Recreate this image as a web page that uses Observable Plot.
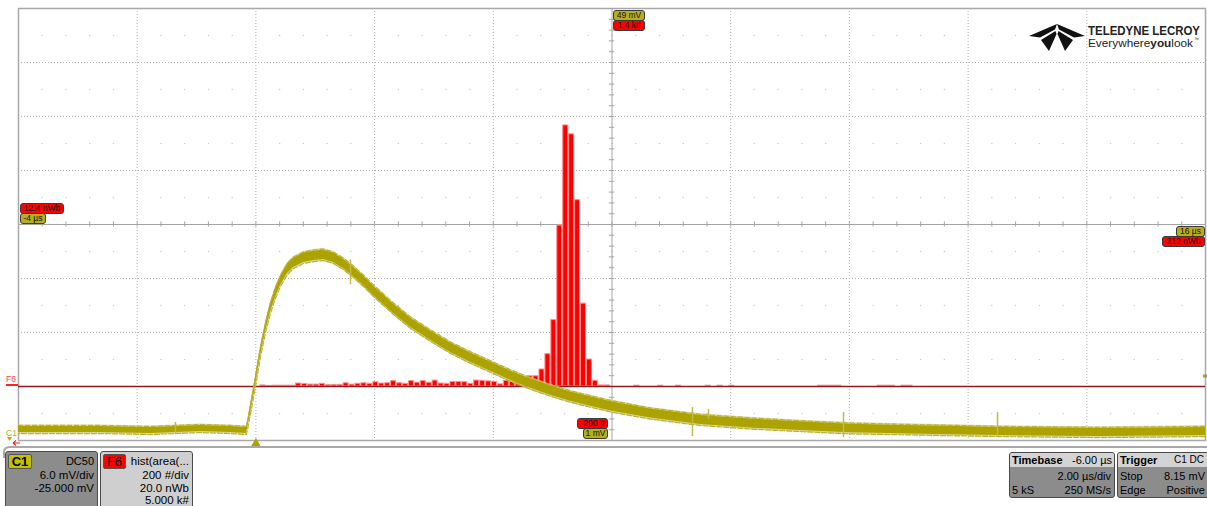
<!DOCTYPE html>
<html><head><meta charset="utf-8">
<script src="https://cdn.jsdelivr.net/npm/d3@7"></script>
<script src="https://cdn.jsdelivr.net/npm/@observablehq/plot@0.6"></script>
<style>
body{margin:0;background:#fff;font-family:"Liberation Sans",Arial,sans-serif;}
#wrap{position:relative;width:1207px;height:506px;overflow:hidden;background:#fff;}
#wrap>svg{position:absolute;left:0;top:0;}
.bdg{position:absolute;height:9px;border:1px solid #3a3a3a;border-radius:3px;font:8.5px/9px "Liberation Sans",Arial,sans-serif;text-align:center;color:#141414;box-sizing:content-box;white-space:nowrap;}
.r{background:#ff0000;}
.o{background:#b6ae1c;}
.box{position:absolute;border:1px solid #4a4a4a;border-radius:3px;box-sizing:border-box;font:11.5px/14px "Liberation Sans",Arial,sans-serif;color:#000;overflow:hidden;}
.tb{font-size:11px;}
.row{position:absolute;left:4px;right:3px;height:14px;}
.row .l{position:absolute;left:0;}
.row .rt{position:absolute;right:0;}
.hdr{position:absolute;left:0;right:0;top:0;height:14px;background:#d4d4d4;}
</style></head><body><div id="wrap"></div>
<script>
// ---------- data ----------
// C1 waveform, time (µs) vs voltage (mV): centre of the noisy trace and half-thickness
const traceT = [-4.000,-2.618,-1.776,-0.933,-0.428,-0.158,-0.091,-0.007,0.078,0.162,0.246,0.330,0.415,0.532,0.634,0.802,0.971,1.139,1.307,1.476,1.644,1.813,1.981,2.150,2.318,2.605,2.942,3.279,3.616,3.953,4.290,4.627,4.964,5.301,5.638,6.008,6.649,7.491,8.334,9.176,10.019,10.861,11.704,12.546,14.231,16.000];
const traceV = [2.22,2.22,2.11,2.33,2.22,2.11,4.44,7.54,10.87,13.53,15.75,17.41,18.75,20.08,20.74,21.30,21.52,21.63,21.30,20.63,19.74,18.75,17.64,16.64,15.64,14.09,12.65,11.31,10.21,9.21,8.21,7.32,6.55,5.88,5.33,4.77,3.99,3.28,2.89,2.59,2.33,2.22,2.11,2.00,1.89,2.00];
const traceH = [0.33,0.33,0.33,0.33,0.33,0.33,0.40,0.45,0.45,0.45,0.48,0.50,0.50,0.52,0.52,0.52,0.52,0.52,0.52,0.52,0.52,0.52,0.52,0.52,0.52,0.52,0.52,0.52,0.52,0.52,0.52,0.52,0.52,0.52,0.52,0.52,0.50,0.50,0.50,0.48,0.48,0.46,0.46,0.45,0.45,0.45];
// isolated noise spikes on the trace
const spikeT  = [-1.355,1.594,7.356,7.626,9.901,12.496];
const spikeLo = [1.80,18.30,1.44,3.33,1.33,1.33];
const spikeHi = [3.00,21.07,4.66,4.44,4.11,4.11];
// F6 histogram of area: bin centre (nWb) and count (#)
const histC = [53.6,54.6,55.6,56.6,57.6,58.6,59.6,60.6,61.6,62.6,63.6,64.6,65.6,66.6,67.6,68.6,69.6,70.6,71.6,72.6,73.6,74.6,75.6,76.6,77.6,78.6,79.6,80.6,81.6,82.6,83.6,84.6,85.6,86.6,87.6,88.6,89.6,90.6,91.6,92.6,93.6,94.6,95.6,96.6,97.6,98.6,99.6,100.6,101.6,102.6,103.6,104.6,105.6,106.6,107.6,108.6,109.6,110.6,111.6,116.6,120.6,123.6,128.6,130.6,132.6,147.6,148.6,149.6,150.6,157.6,158.6,159.6,161.6,162.6];
const histN = [4,2,3,3,3,3,11,9,7,7,10,5,6,6,12,7,10,12,10,16,11,12,20,12,10,20,14,20,14,22,11,10,17,17,16,10,22,21,19,17,8,21,18,21,21,38,38,63,120,246,596,967,934,690,307,100,21,4,4,3,3,3,3,3,3,3,3,3,3,3,3,3,3,3];
// screen graticule
const timeDomain = [-4, 16];      // µs, 2.00 µs/div
const voltDomain = [1, 49];       // mV, 6.0 mV/div
const areaDomain = [12.4, 212.4]; // nWb, 20 nWb/div
const countDomain = [-200, 1400]; // #, 200 #/div
const gridT = [-2,0,2,4,8,10,12,14];
const gridV = [7,13,19,31,37,43];
const midRowsV = [4,10,16,22,28,34,40,46];

// ---------- derived tables ----------
const trace = traceT.map((t,i)=>({t, v:traceV[i], h:traceH[i]}));
const spikes = spikeT.map((t,i)=>({t, lo:spikeLo[i], hi:spikeHi[i]}));
const hist = histC.map((c,i)=>({c, n:histN[i]}));
const minorT = d3.range(1,50).map(k=>timeDomain[0]+0.4*k);
const minorV = d3.range(1,40).map(k=>voltDomain[0]+1.2*k);
const dots = midRowsV.flatMap(v=>minorT.map(t=>({t,v})));

const W=1207,H=448;
const frame = {width:W,height:H,marginTop:8,marginRight:2,marginBottom:8,marginLeft:18,style:{background:"transparent",overflow:"visible"}};
const OLIVE="#aca300";

const gridPlot = Plot.plot({...frame,
  x:{domain:timeDomain,axis:null}, y:{domain:voltDomain,axis:null},
  marks:[
    Plot.ruleX(gridT,{stroke:"#b0b0b0",strokeDasharray:"1,2"}),
    Plot.ruleY(gridV,{stroke:"#b0b0b0",strokeDasharray:"1,2"}),
    Plot.dot(dots,{x:"t",y:"v",r:0.75,fill:"#cccccc",stroke:null}),
    Plot.ruleX([6],{stroke:"#a4a4a4"}),
    Plot.ruleY([25],{stroke:"#a4a4a4"}),
    Plot.ruleX(minorT,{y1:24.72,y2:25.28,stroke:"#a4a4a4"}),
    Plot.ruleY(minorV,{x1:5.955,x2:6.045,stroke:"#a4a4a4"}),
    Plot.frame({stroke:"#a8a8a8",strokeWidth:1.5}),
    Plot.dot([0],{x:d=>d,y:()=>voltDomain[0],symbol:"triangle",r:3.6,fill:OLIVE,stroke:null,dy:3})
  ]});

const histPlot = Plot.plot({...frame,
  x:{domain:areaDomain,axis:null}, y:{domain:countDomain,axis:null},
  marks:[
    Plot.rect(hist,{x1:d=>d.c-0.42,x2:d=>d.c+0.42,y1:()=>0,y2:"n",fill:"#ff0000",stroke:"#ff9090",strokeWidth:1}),
    Plot.ruleY([0],{stroke:"#8e1b1b",strokeWidth:1.3})
  ]});

const wavePlot = Plot.plot({...frame,
  x:{domain:timeDomain,axis:null}, y:{domain:voltDomain,axis:null},
  marks:[
    Plot.areaY(trace,{x:"t",y1:d=>d.v-d.h-0.18,y2:d=>d.v+d.h+0.18,fill:"#d2cb80",fillOpacity:0.8}),
    Plot.areaY(trace,{x:"t",y1:d=>d.v-d.h,y2:d=>d.v+d.h,fill:OLIVE}),
    Plot.line(trace,{x:"t",y:d=>d.v+d.h+0.12,stroke:"#b9b130",strokeWidth:1.2,strokeDasharray:"2,1,1,3"}),
    Plot.line(trace,{x:"t",y:d=>d.v-d.h-0.12,stroke:"#b9b130",strokeWidth:1.2,strokeDasharray:"1,2,3,1"}),
    Plot.ruleX(spikes,{x:"t",y1:"lo",y2:"hi",stroke:"#c2b94a",strokeWidth:1.5})
  ]});

const wrap = document.getElementById("wrap");
wrap.append(gridPlot, histPlot, wavePlot);

// ---------- overlay: markers, badges, logo, info boxes ----------
const ns="http://www.w3.org/2000/svg";
const ov = document.createElementNS(ns,"svg");
ov.setAttribute("width",W); ov.setAttribute("height",506);
ov.innerHTML = `
 <path d="M4,458 L4,452 Q4,447 10,447 L1207,447" fill="none" stroke="#a8a8a8" stroke-width="2"/>
 <text x="6" y="382" font-size="8.5" fill="#ff3a3a" font-family="Liberation Sans">F6</text>
 <line x1="6" x2="18" y1="385" y2="385" stroke="#ff2020" stroke-width="2"/>
 <text x="6" y="436" font-size="8.5" fill="#b4ac10" font-family="Liberation Sans">C1</text>
 <path d="M7,437 L12,437 L9.5,441 Z" fill="#b4ac10"/>
 <path d="M13,443 L20,443 M13,443 L16,440.5 M13,443 L16,445.5" stroke="#ff2020" stroke-width="1.2" fill="none"/>
 <rect x="1203" y="374.5" width="4" height="3" fill="${OLIVE}"/>
 <g fill="#111">
  <path d="M1057,24 L1029,36 L1040,37.5 L1055,29.5 Z"/>
  <path d="M1055.5,31 L1041,40 L1049,51 L1056.5,34 Z"/>
  <path d="M1058.5,31 L1073,40 L1065,51 L1057.5,34 Z"/>
  <path d="M1057,24 L1085,36 L1074,37.5 L1059,29.5 Z"/>
 </g>
 <text x="1088" y="35" font-size="12" font-weight="bold" fill="#222" textLength="112" lengthAdjust="spacingAndGlyphs" font-family="Liberation Sans">TELEDYNE LECROY</text>
 <text x="1088" y="47" font-size="11.5" fill="#222" textLength="105" lengthAdjust="spacingAndGlyphs" font-family="Liberation Sans">Everywhere<tspan font-weight="bold">you</tspan>look</text>
 <text x="1194" y="41" font-size="5" fill="#222" font-family="Liberation Sans">™</text>
`;
wrap.append(ov);

function badge(txt,cls,left,top,w){
  const d=document.createElement("div");
  d.className="bdg "+cls; d.textContent=txt;
  d.style.left=left+"px"; d.style.top=top+"px"; d.style.width=w+"px";
  wrap.append(d);
}
badge("12.4 nWb","r",20,203,42);
badge("-4 µs","o",20,213,24);
badge("49 mV","o",613,10,30);
badge("1.4 k#","r",613,19.5,30);
badge("-200 #","r",577,418,29);
badge("1 mV","o",583,428,23);
badge("16 µs","o",1176,226,27);
badge("212 nWb","r",1162,236,41);

function box(left,top,w,h,bg,html,cls){
  const d=document.createElement("div");
  d.className="box"+(cls?" "+cls:""); d.style.left=left+"px"; d.style.top=top+"px";
  d.style.width=w+"px"; d.style.height=h+"px"; d.style.background=bg;
  d.innerHTML=html; wrap.append(d);
}
box(5,451,93,60,"#8c8c8c",`
  <div style="position:absolute;left:2px;top:2px;width:22px;height:13px;background:#c6bf00;border:1px solid #555;border-radius:2px;font-weight:bold;font-size:13px;line-height:13px;text-align:center;">C1</div>
  <div style="position:absolute;right:3px;top:2px;font-size:11px;">DC50</div>
  <div class="row" style="top:16px"><span class="rt">6.0 mV/div</span></div>
  <div class="row" style="top:29px"><span class="rt">-25.000 mV</span></div>`);
box(100,451,93,60,"#cfcfcf",`
  <div style="position:absolute;left:2px;top:2px;width:21px;height:13px;background:#ff0000;border:1px solid #555;border-radius:2px;font-size:13px;line-height:13px;text-align:center;">F6</div>
  <div style="position:absolute;right:3px;top:2px;font-size:11.5px;">hist(area(...</div>
  <div class="row" style="top:16px"><span class="rt">200 #/div</span></div>
  <div class="row" style="top:29px"><span class="rt">20.0 nWb</span></div>
  <div class="row" style="top:42px;height:12px;line-height:12px"><span class="rt">5.000 k#</span></div>`);
box(1009,452,106,46,"#8c8c8c",`
  <div class="hdr"><span style="position:absolute;left:2px;font-weight:bold;">Timebase</span><span style="position:absolute;right:2px;">-6.00 µs</span></div>
  <div class="row" style="top:16px;left:2px"><span class="rt">2.00 µs/div</span></div>
  <div class="row" style="top:30px;left:2px"><span class="l">5 kS</span><span class="rt">250 MS/s</span></div>`,"tb");
box(1117,452,94,46,"#8c8c8c",`
  <div class="hdr"><span style="position:absolute;left:2px;font-weight:bold;">Trigger</span><span style="position:absolute;right:6px;font-size:10px;">C1 DC</span></div>
  <div class="row" style="top:16px;left:2px;right:5px"><span class="l">Stop</span><span class="rt">8.15 mV</span></div>
  <div class="row" style="top:30px;left:2px;right:5px"><span class="l">Edge</span><span class="rt">Positive</span></div>`,"tb");
</script></body></html>
